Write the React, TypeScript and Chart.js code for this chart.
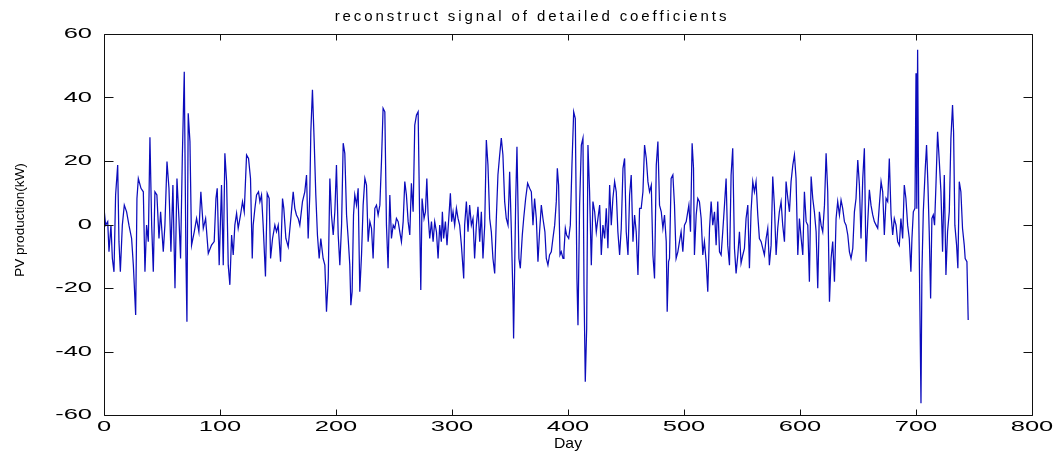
import React, { useEffect, useRef } from "react";
import { Chart, registerables } from "chart.js";

Chart.register(...registerables);

// Reconstructed detail-coefficient signal: day index and PV production (kW)
const day = [
  // 0 - 95
  0, 1.4, 3.2, 4.3, 6.0, 7.2, 8.6, 10.0, 11.8, 12.9,
  14.1, 15.8, 17.5, 19.5, 21.5, 23.8, 25.3, 27.3, 28.4, 29.6,
  31.9, 33.9, 35.3, 36.7, 38.2, 39.6, 41.1, 42.5, 43.9, 45.6,
  47.4, 48.8, 51.1, 52.5, 54.3, 56.0, 57.7, 59.4, 61.2, 62.9,
  64.6, 66.0, 67.5, 69.2, 70.6, 71.5, 72.6, 74.1, 75.5, 77.8,
  79.8, 81.8, 83.5, 85.6, 87.6, 89.9, 92.7, 95.0,
  // 96 - 189
  96.5, 97.6, 99.3, 101.3, 102.8, 104.2, 105.7, 107.1, 108.5, 110.0,
  111.4, 112.8, 114.3, 115.7, 117.7, 119.4, 120.9, 122.9, 124.6, 126.3,
  127.8, 128.6, 130.1, 131.5, 133.2, 134.4, 135.8, 137.2, 139.2, 140.7,
  142.4, 143.6, 145.3, 147.3, 148.7, 150.2, 152.2, 153.9, 155.0, 156.8,
  158.8, 160.8, 163.1, 164.5, 165.9, 167.4, 168.8, 171.1, 173.1, 174.6,
  176.0, 177.4, 178.3, 179.7, 181.2, 182.6, 184.0, 185.5, 186.9, 188.9,
  // 190 - 288
  190.4, 191.8, 193.3, 194.7, 196.1, 197.6, 199.0, 200.4, 201.9, 203.3,
  204.8, 206.2, 207.6, 209.1, 210.5, 211.9, 212.8, 213.9, 215.1, 216.2,
  217.7, 219.1, 220.5, 222.0, 223.4, 224.9, 226.3, 227.7, 229.2, 230.6,
  232.0, 233.5, 234.9, 236.3, 237.8, 239.2, 240.6, 242.1, 243.5, 244.9,
  246.4, 247.8, 249.3, 250.7, 252.1, 253.6, 255.0, 256.4, 257.9, 259.3,
  260.7, 262.2, 263.6, 265.0, 266.5, 267.9, 269.4, 270.8, 272.2, 273.1,
  274.2, 275.9, 277.1, 278.3, 279.4, 280.8, 282.3, 283.7, 285.1, 286.6,
  288.0,
  // 289 - 387
  289.4, 290.8, 291.7, 292.8, 294.3, 295.7, 297.4, 298.6, 299.7, 300.9,
  302.3, 303.8, 305.2, 306.6, 308.1, 310.1, 310.9, 312.4, 313.8, 315.2,
  316.7, 318.1, 319.5, 321.0, 322.4, 323.9, 325.3, 326.7, 328.2, 329.6,
  331.0, 332.5, 333.9, 335.3, 336.8, 338.2, 339.6, 341.1, 342.5, 343.9,
  345.4, 346.8, 348.3, 349.7, 351.1, 352.6, 353.1, 354.9, 356.0, 357.7,
  358.9, 360.6, 361.8, 363.5, 365.2, 366.9, 368.4, 369.8, 371.2, 372.7,
  374.1, 375.5, 377.0, 378.4, 380.1, 381.3, 382.7, 384.1, 385.6, 387.0,
  // 388 - 487
  388.5, 389.9, 390.8, 391.9, 393.1, 394.2, 395.7, 396.5, 397.7, 398.8,
  400.6, 402.0, 403.4, 404.9, 406.3, 407.7, 408.6, 410.0, 411.5, 412.9,
  413.8, 414.9, 416.1, 417.2, 418.6, 420.1, 421.5, 423.0, 424.4, 425.8,
  427.3, 428.7, 430.1, 431.6, 433.0, 434.4, 435.9, 437.3, 438.7, 440.2,
  441.6, 443.0, 444.5, 445.9, 447.4, 448.8, 450.2, 451.7, 453.1, 454.5,
  456.0, 457.4, 458.8, 460.3, 461.7, 463.1, 464.6, 466.0, 467.5, 468.9,
  470.3, 471.8, 473.2, 474.6, 476.1, 477.5, 478.9, 480.4, 481.8, 483.2,
  484.7, 485.5, 486.7,
  // 487 - 585
  487.5, 488.9, 490.4, 491.8, 493.2, 494.7, 496.1, 497.5, 499.0, 500.4,
  501.9, 504.2, 505.6, 507.0, 508.2, 509.0, 510.5, 511.9, 513.3, 514.8,
  516.2, 517.6, 519.1, 520.5, 522.0, 523.4, 524.8, 526.3, 527.7, 529.1,
  530.6, 532.0, 533.4, 534.9, 536.3, 537.7, 539.2, 540.6, 542.0, 543.5,
  544.9, 546.4, 547.8, 549.2, 550.7, 552.1, 553.5, 555.0, 556.4, 557.8,
  559.3, 560.7, 562.1, 563.6, 565.0, 566.5, 567.9, 569.3, 570.8, 572.2,
  573.6, 575.1, 576.5, 577.9, 579.4, 580.8, 582.2, 583.7, 585.1,
  // 586 - 684
  586.6, 588.0, 589.5, 590.9, 592.3, 593.8, 595.2, 596.6, 598.1, 599.5,
  601.0, 602.4, 603.8, 605.3, 606.7, 608.1, 609.6, 611.0, 612.4, 613.9,
  615.3, 616.7, 618.2, 619.6, 621.1, 622.5, 623.9, 625.4, 626.8, 628.2,
  629.7, 631.1, 632.5, 634.0, 635.4, 636.8, 638.3, 639.7, 641.2, 642.6,
  644.0, 645.5, 646.9, 648.3, 649.8, 651.2, 652.6, 654.1, 655.5, 656.9,
  658.4, 659.8, 661.2, 662.7, 664.1, 665.6, 667.0, 668.4, 669.9, 671.3,
  672.7, 674.2, 675.6, 677.0, 678.5, 679.9, 681.3, 682.8, 684.2,
  // 685 - 745
  685.6, 687.0, 688.5, 689.9, 691.3, 692.8, 694.2, 695.6, 696.5, 697.7,
  699.1, 700.0, 700.7, 701.4, 702.3, 703.4, 704.3, 705.1, 706.3, 708.0,
  709.1, 710.3, 711.4, 712.6, 713.7, 714.9, 716.0, 717.2, 718.6, 720.1,
  721.5, 722.9, 724.4, 725.8, 727.2, 728.7, 730.1, 731.5, 732.4, 733.5,
  735.0, 736.1, 737.3, 738.7, 740.1, 741.6, 742.4, 743.9, 745.0,
];

const kw = [
  // 0 - 95
  5.1, -0.2, 0.9, -8.6, -0.2, -10.7, -14.9, 9.3, 18.7, -5.4,
  -14.9, -0.2, 6.1, 4.0, -0.2, -4.4, -12.8, -28.5, 8.2, 14.5,
  11.4, 10.3, -14.9, -0.2, -5.4, 27.5, -0.2, -14.9, 10.3, 9.3,
  -4.4, 4.0, -8.6, -0.2, 19.8, 11.4, -8.6, 12.4, -20.1, 14.5,
  1.9, -10.7, 20.8, 48.1, -9.6, -30.6, 35.0, 26.1, -6.5, -2.3,
  1.9, -2.3, 10.3, -1.2, 1.9, -9.1, -6.5, -5.4,
  // 96 - 189
  8.2, 11.4, -12.8, 12.4, -12.8, 22.4, 13.5, -12.8, -19.0, -3.3,
  -9.6, -0.2, 3.5, -1.2, 3.0, 7.2, 4.0, 21.9, 20.8, 14.5,
  -10.7, -0.2, 5.1, 9.3, 10.3, 7.2, 9.3, -0.2, -16.4, 9.8,
  8.2, -10.7, -4.4, -0.2, -2.3, -0.2, -11.7, 8.2, 5.1, -4.4,
  -7.0, 0.9, 10.3, 5.1, 3.0, 1.9, -0.2, 7.2, 10.3, 15.6,
  -4.4, 9.3, 29.2, 42.4, 26.1, 9.3, -3.3, -10.7, -4.4, -10.7,
  // 190 - 288
  -12.8, -27.5, -17.0, 14.5, 3.0, -3.3, 4.0, 18.7, -3.3, -12.8,
  -0.2, 25.6, 22.4, 3.0, -4.4, -12.8, -25.4, -21.2, 3.0, 9.3,
  6.1, 11.4, -21.2, -9.6, 6.1, 14.5, 12.4, -5.4, 0.9, -1.2,
  -10.7, 5.1, 6.1, 3.0, 6.1, 19.8, 36.6, 35.5, -0.2, -13.8,
  9.3, -4.4, -0.2, -1.2, 1.9, 0.9, -2.3, -5.4, 0.9, 13.5,
  9.3, 0.9, -3.3, 13.0, 4.0, 31.3, 34.5, 35.5, -0.2, -20.6,
  8.2, 1.9, 4.0, 14.5, 3.0, -4.4, 0.9, -5.4, 0.9, -2.3,
  -10.7,
  // 289 - 387
  -0.2, -5.4, 4.0, -4.4, 0.9, -6.5, 3.0, 9.8, 0.9, 4.0,
  -0.2, 5.1, 1.9, -0.2, -6.5, -17.0, -0.2, 7.2, -2.3, 6.1,
  -0.2, 1.9, -10.7, -0.2, 5.6, -5.4, 4.0, -10.7, -0.2, 26.6,
  18.7, 1.9, -2.3, -10.7, -15.4, 1.9, 15.6, 21.9, 27.2, 21.9,
  7.2, 1.9, -0.2, 16.6, -1.2, -23.3, -35.9, 7.2, 24.5, -10.7,
  -13.8, -3.3, 1.9, 8.2, 13.0, 11.4, 10.3, -0.2, 8.2, 1.9,
  -11.7, -2.3, 6.1, 1.9, -2.3, -10.7, -12.8, -9.6, -8.6, -4.4,
  // 388 - 487
  -0.2, 7.2, 17.7, 12.4, -9.6, -8.6, -10.7, -8.6, -1.2, -3.3,
  -4.4, -0.2, 18.7, 35.5, 33.4, -17.0, -31.7, 6.1, 25.0, 27.2,
  -20.1, -49.5, -32.7, 25.0, 10.3, -12.8, 7.2, 4.0, -2.3, 1.9,
  6.1, -9.6, -0.2, -4.4, 5.1, -7.5, 12.4, -0.2, 8.2, 13.5,
  10.3, -2.3, -9.6, -1.2, 17.7, 20.8, -2.3, -9.6, 9.3, 15.6,
  -5.4, 3.0, -2.3, -15.9, 5.1, 5.1, 10.3, 25.0, 20.8, 13.5,
  10.3, 12.4, -9.6, -17.0, 18.7, 26.1, 6.1, 4.0, -1.2, 3.0,
  -5.4, -27.5, -11.7,
  // 487 - 585
  -10.7, 14.5, 15.6, 6.1, -10.7, -8.6, -5.4, -2.3, -8.6, -0.2,
  0.9, 6.1, -2.3, 25.6, 17.7, -9.6, 3.0, 8.2, 7.2, 1.9,
  -9.6, -5.4, -11.7, -21.2, -1.2, 7.2, -0.2, 4.0, -6.5, 7.2,
  -8.6, -9.6, -2.3, 6.1, 14.5, -6.5, -12.8, 15.6, 24.0, -7.5,
  -15.4, -9.6, -2.3, -12.2, -9.6, -7.5, 1.9, 6.1, -13.8, 4.0,
  13.5, 10.3, 13.5, 3.0, -4.4, -5.4, -7.5, -9.6, -4.4, -1.2,
  -12.8, -6.5, 15.1, 6.1, -9.6, -1.2, 4.0, 7.2, -0.2,
  // 586 - 684
  -5.4, 13.5, 8.2, 4.0, 13.5, 18.7, 21.9, 14.5, -9.6, 1.9,
  -4.4, -9.6, 10.3, 0.9, -0.2, -18.0, 15.1, 8.2, 4.0, -2.3,
  -20.1, 4.0, -0.2, -2.3, 6.1, 22.4, 10.3, -24.3, -10.7, -5.4,
  -18.0, 1.9, 7.2, 3.0, 7.7, 5.1, 0.9, -0.2, -3.3, -8.6,
  -10.7, -7.5, 4.0, 8.2, 20.3, 12.4, -4.4, 14.5, 24.0, -11.7,
  0.9, 10.9, 6.1, 3.0, 0.9, -0.2, -1.2, 6.1, 13.5, 10.3,
  -3.3, 8.2, 7.2, 20.8, 3.0, -3.3, 1.9, -0.2, -5.4,
  // 685 - 745
  -6.5, 1.9, -4.4, 12.4, 8.2, -0.2, -4.4, -14.9, -4.4, 4.0,
  5.1, 47.6, 5.0, 55.0, 6.1, -27.5, -56.3, -14.9, 4.0, 17.7,
  25.0, 12.4, -2.3, -23.3, 1.9, 3.0, -0.2, 12.4, 29.2, 19.8,
  10.3, -8.6, 15.6, -15.9, -2.3, 4.0, 27.2, 37.6, 29.2, -0.2,
  -6.5, -13.8, 13.5, 10.3, -1.2, -6.5, -10.7, -11.7, -30.1,
];

const xTicks = [0, 100, 200, 300, 400, 500, 600, 700, 800];
const yTicks = [-60, -40, -20, 0, 20, 40, 60];

const titleText = "reconstruct signal of detailed coefficients";
const xTitle = "Day";
const yTitle = "PV production(kW)";

const W = 1062;
const H = 456;
const PLOT = { left: 104, right: 1032, top: 34, bottom: 415 };
const LINE = "#0c0cbc";
const AXIS = "#111111";
const TEXT = "#000000";
const FONT = "'Liberation Sans', Arial, Helvetica, sans-serif";

const crisp = (v: number) => Math.round(v) + 0.5;

// Text widened along the page's horizontal axis
function wideText(
  ctx: CanvasRenderingContext2D,
  text: string,
  x: number,
  y: number,
  sx: number,
  align: CanvasTextAlign
) {
  ctx.save();
  ctx.translate(x, y);
  ctx.scale(sx, 1);
  ctx.textAlign = align;
  ctx.fillText(text, 0, 0);
  ctx.restore();
}

// Box, inward ticks and all labels in a plain plot-window style
const framePlugin = {
  id: "frame",
  afterDraw(chart: any) {
    const { ctx, chartArea: a } = chart;
    const xs = chart.scales.x;
    const ys = chart.scales.y;
    ctx.save();

    ctx.strokeStyle = AXIS;
    ctx.lineWidth = 1;
    const L = crisp(a.left);
    const R = crisp(a.right);
    const T = crisp(a.top);
    const B = crisp(a.bottom);
    ctx.beginPath();
    ctx.moveTo(L, T);
    ctx.lineTo(R, T);
    ctx.lineTo(R, B);
    ctx.lineTo(L, B);
    ctx.closePath();
    ctx.stroke();

    ctx.beginPath();
    for (const v of xTicks) {
      const px = crisp(xs.getPixelForValue(v));
      ctx.moveTo(px, B);
      ctx.lineTo(px, B - 6);
      ctx.moveTo(px, T);
      ctx.lineTo(px, T + 6);
    }
    for (const v of yTicks) {
      const py = crisp(ys.getPixelForValue(v));
      ctx.moveTo(L, py);
      ctx.lineTo(L + 9, py);
      ctx.moveTo(R, py);
      ctx.lineTo(R - 9, py);
    }
    ctx.stroke();

    ctx.fillStyle = TEXT;
    ctx.font = `15px ${FONT}`;
    ctx.textBaseline = "middle";
    for (const v of xTicks) {
      wideText(ctx, String(v), xs.getPixelForValue(v), 427, 1.7, "center");
    }
    for (const v of yTicks) {
      wideText(ctx, String(v), 92, ys.getPixelForValue(v), 1.7, "right");
    }

    // axis titles
    ctx.font = `15px ${FONT}`;
    ctx.textBaseline = "middle";
    wideText(ctx, xTitle, (a.left + a.right) / 2, 444, 1.05, "center");

    ctx.save();
    ctx.font = `13.5px ${FONT}`;
    ctx.textAlign = "center";
    ctx.textBaseline = "middle";
    ctx.translate(20, 220);
    ctx.rotate(-Math.PI / 2);
    ctx.fillText(yTitle, 0, 0);
    ctx.restore();

    // chart title
    ctx.save();
    ctx.font = `15px ${FONT}`;
    ctx.textAlign = "center";
    ctx.textBaseline = "alphabetic";
    (ctx as any).letterSpacing = "2.9px";
    ctx.fillText(titleText, W / 2 + 1, 21);
    ctx.restore();

    ctx.restore();
  },
};

export default function App() {
  const canvasRef = useRef<HTMLCanvasElement | null>(null);

  useEffect(() => {
    const canvas = canvasRef.current;
    if (!canvas) return;
    const n = Math.min(day.length, kw.length);
    const points = [];
    for (let i = 0; i < n; i++) points.push({ x: day[i], y: kw[i] });

    const chart = new Chart(canvas, {
      type: "line",
      data: {
        datasets: [
          {
            data: points,
            borderColor: LINE,
            borderWidth: 1.25,
            pointRadius: 0,
            tension: 0,
            fill: false,
          },
        ],
      },
      options: {
        responsive: false,
        animation: false,
        devicePixelRatio: 1,
        layout: {
          padding: { left: 0, top: PLOT.top, right: W - PLOT.right, bottom: 0 },
        },
        plugins: {
          legend: { display: false },
          tooltip: { enabled: false },
          title: { display: false },
        },
        scales: {
          x: {
            type: "linear",
            min: 0,
            max: 800,
            grid: { display: false },
            border: { display: false },
            ticks: { display: false },
            afterBuildTicks: (s: any) => {
              s.ticks = xTicks.map((v) => ({ value: v }));
            },
            afterFit: (s: any) => {
              s.height = H - PLOT.bottom;
            },
          },
          y: {
            type: "linear",
            min: -60,
            max: 60,
            grid: { display: false },
            border: { display: false },
            ticks: { display: false },
            afterBuildTicks: (s: any) => {
              s.ticks = yTicks.map((v) => ({ value: v }));
            },
            afterFit: (s: any) => {
              s.width = PLOT.left;
            },
          },
        },
      } as any,
      plugins: [framePlugin],
    });

    return () => chart.destroy();
  }, []);

  return (
    <div
      style={{
        position: "absolute",
        left: 0,
        top: 0,
        width: W,
        height: H,
        background: "#ffffff",
      }}
    >
      <canvas ref={canvasRef} width={W} height={H} style={{ display: "block" }} />
    </div>
  );
}
